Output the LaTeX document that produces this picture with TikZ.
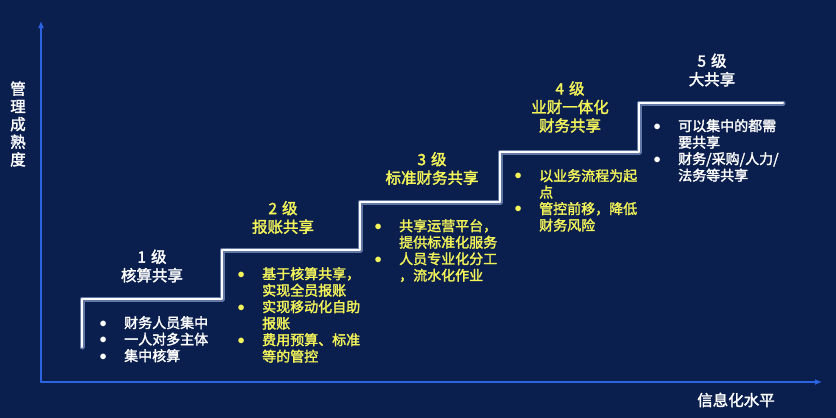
\documentclass[tikz,border=0pt]{standalone}
\usepackage{fontspec}
\setmainfont{Noto Sans CJK SC}[AutoFakeBold=2]
\usetikzlibrary{arrows.meta}
\definecolor{bgnavy}{HTML}{0B1F4E}
\definecolor{axisblue}{HTML}{2B63E0}
\definecolor{lvlyellow}{HTML}{F3F35A}
\definecolor{stairglow}{HTML}{A9C2EC}
\newcommand{\itm}{\makebox[6pt]{\raisebox{1pt}{$\bullet$}}\hspace{18pt}}
\newcommand{\ind}{\hspace*{24pt}}

\begin{document}
\begin{tikzpicture}[x=1pt, y=-1pt, line cap=round, line join=round,
    lvltitle/.style={align=center, inner sep=0pt, text=#1,
      font=\fontsize{15.5}{18.5}\selectfont\bfseries},
    lvllist/.style={anchor=north west, align=left, inner sep=0pt, text=#1,
      font=\fontsize{14}{16.5}\selectfont\bfseries},
    axisline/.style={draw=axisblue, line width=2pt, -{Latex[length=7pt,width=6pt]}},
    axislabel/.style={align=center, inner sep=0pt, text=white,
      font=\fontsize{15.5}{17.7}\selectfont\bfseries}]

      % Fondo
      \fill[bgnavy] (0,0) rectangle (836,418);
      \useasboundingbox (0,0) rectangle (836,418);

      % Ejes
      \coordinate (origin) at (41,382);
      \coordinate (ytip) at (41,21);
      \coordinate (xtip) at (822,382);
      \draw[axisline] (origin) -- (ytip);
      \draw[axisline] (origin) -- (xtip);
      \node[axislabel] (ylab) at (18,124) {管\\理\\成\\熟\\度};
      \node[axislabel] (xlab) at (736,400) {信息化水平};

      % Escalera
      \draw[stairglow, line width=5pt, opacity=.55]
        (82,347) |- (222,299) |- (360,250) |- (500,202) |- (639,152) |- (783,103);
      \draw[white, line width=2pt]
        (82,347) |- (222,299) |- (360,250) |- (500,202) |- (639,152) |- (783,103);

      % Nivel 1
      \node[lvltitle=white] (t1) at (152,266) {1\hspace{5pt}级\\核算共享};
      \node[lvllist=white] (l1) at (100,316) {\itm 财务人员集中\\ \itm 一人对多主体\\ \itm 集中核算};

      % Nivel 2
      \node[lvltitle=lvlyellow] (t2) at (283,217.5) {2\hspace{5pt}级\\报账共享};
      \node[lvllist=lvlyellow] (l2) at (238,267) {\itm 基于核算共享，\\ \ind 实现全员报账\\
        \itm 实现移动化自助\\ \ind 报账\\ \itm 费用预算、标准\\ \ind 等的管控};

      % Nivel 3
      \node[lvltitle=lvlyellow] (t3) at (432,168.5) {3\hspace{5pt}级\\标准财务共享};
      \node[lvllist=lvlyellow] (l3) at (375,219) {\itm 共享运营平台，\\ \ind 提供标准化服务\\
        \itm 人员专业化分工\\ \ind ，流水化作业};

      % Nivel 4
      \node[lvltitle=lvlyellow] (t4) at (570,107) {4\hspace{5pt}级\\业财一体化\\财务共享};
      \node[lvllist=lvlyellow] (l4) at (515,169) {\itm 以业务流程为起\\ \ind 点\\
        \itm 管控前移，降低\\ \ind 财务风险};

      % Nivel 5
      \node[lvltitle=white] (t5) at (712,70) {5\hspace{5pt}级\\大共享};
      \node[lvllist=white] (l5) at (654,119) {\itm 可以集中的都需\\ \ind 要共享\\
        \itm 财务/采购/人力/\\ \ind 法务等共享};
    \end{tikzpicture}
\end{document}
